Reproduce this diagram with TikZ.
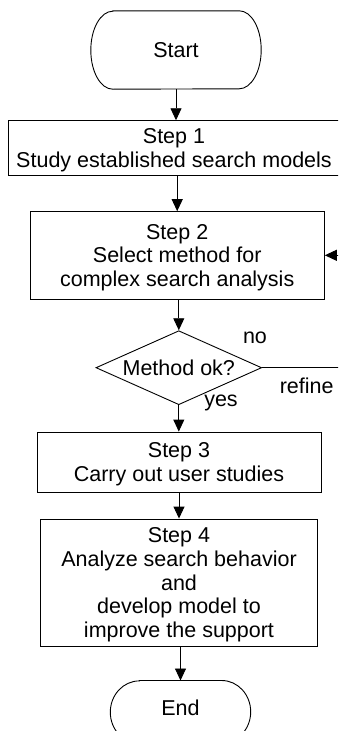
\documentclass[tikz,border=0pt]{standalone}
\usepackage{fontspec}
\setmainfont{Liberation Sans}
\usetikzlibrary{arrows.meta,shapes.geometric}
\begin{document}
\begin{tikzpicture}[x=1pt,y=1pt,
  every node/.style={font=\fontsize{21.5}{23.7}\selectfont},
  stepbox/.style={draw, line width=0.9pt, rectangle, align=center, inner sep=0pt, text depth=0pt},
  term/.style={inner sep=0pt},
  termline/.style={line width=0.9pt},
  decision/.style={draw, line width=0.9pt, diamond, inner sep=0pt, aspect=2.24},
  arr/.style={line width=0.9pt, -{Triangle[length=12pt,width=11pt]}},
  lbl/.style={inner sep=0pt, anchor=base}]
\useasboundingbox (0,0) rectangle (338,-731);
\clip (0,0) rectangle (338,-731);

% process steps
\node[term, minimum width=170pt, minimum height=78pt] (start) at (176,-50) {Start};
\node[stepbox, minimum width=332pt, minimum height=55pt] (s1) at (174,-148.2)
  {Step 1\\Study established search models};
\node[stepbox, minimum width=294.3pt, minimum height=87.3pt] (s2) at (177.2,-255.3)
  {Step 2\\Select method for\\complex search analysis};
\node[decision, minimum width=165.7pt, minimum height=74pt] (dec) at (178.8,-367.7) {Method ok?};
\node[stepbox, minimum width=284pt, minimum height=60pt] (s3) at (179,-462)
  {Step 3\\Carry out user studies};
\node[stepbox, minimum width=276.6pt, minimum height=127pt] (s4) at (179,-582.5)
  {Step 4\\Analyze search behavior\\and\\develop model to\\improve the support};
\node[term, minimum width=140pt, minimum height=62.6pt, text depth=9pt] (stop) at (180.5,-712) {End};

% terminator outlines with elliptical ends
\draw[termline] ([xshift=22pt]start.north west) -- ([xshift=-22pt]start.north east)
  arc[start angle=90, end angle=-90, x radius=22pt, y radius=39pt]
  -- ([xshift=22pt]start.south west)
  arc[start angle=270, end angle=90, x radius=22pt, y radius=39pt] -- cycle;
\draw[termline] ([xshift=29pt]stop.north west) -- ([xshift=-29pt]stop.north east)
  arc[start angle=90, end angle=-90, x radius=29pt, y radius=31.3pt]
  -- ([xshift=29pt]stop.south west)
  arc[start angle=270, end angle=90, x radius=29pt, y radius=31.3pt] -- cycle;

% branch labels
\node[lbl] (no) at (255,-343.3) {no};
\node[lbl] (refine) at (306.7,-393.3) {refine};
\node[lbl] (yes) at (221,-406.7) {yes};

% connectors
\coordinate (loop) at (346,-300);
\draw[arr] (start) -- (start |- s1.north);
\draw[arr] (s1.south -| s2.north) -- (s2.north);
\draw[arr] (s2.south -| dec.north) -- (dec.north);
\draw[arr] (dec.south) -- (dec.south |- s3.north);
\draw[arr] (s3.south) -- (s4.north);
\draw[arr] (s4.south -| stop.north) -- (stop.north);
\draw[arr] (dec.east) -- (dec.east -| loop) |- (s2.east);
\end{tikzpicture}
\end{document}
